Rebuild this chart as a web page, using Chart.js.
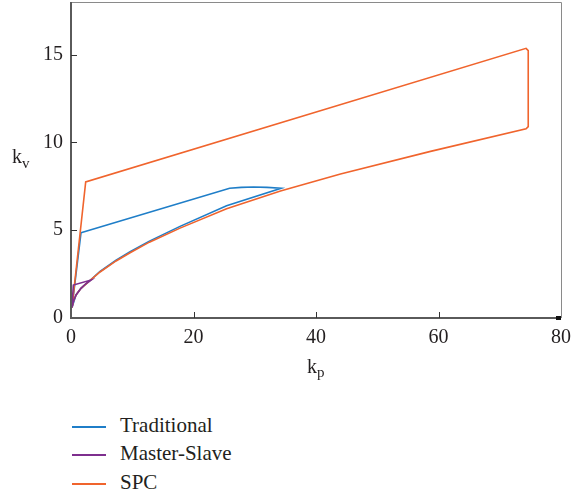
<!DOCTYPE html>
<html>
<head>
<meta charset="utf-8">
<script src="https://cdn.jsdelivr.net/npm/chart.js@4.4.1/dist/chart.umd.min.js"></script>
<style>
  html, body { margin: 0; padding: 0; background: #fff; }
  #wrap { position: relative; width: 572px; height: 496px; font-family: "Liberation Serif", serif; color: #231f20; }
  #c { position: absolute; left: 0; top: 0; }
  .lbl { position: absolute; font-size: 20px; line-height: 20px; white-space: nowrap; }
  .sub { position: relative; font-size: 15px; }
  .leg { position: absolute; left: 72px; height: 20px; }
  .leg .ln { position: absolute; left: 0; top: 11px; width: 34px; height: 2px; }
  .leg .tx { position: absolute; left: 48px; top: 0; font-size: 21px; line-height: 20px; white-space: nowrap; }
</style>
</head>
<body>
<div id="wrap">
  <canvas id="c" width="572" height="360"></canvas>
  <div class="lbl" style="left:12px; top:146px;">k<span class="sub" style="top:5px;">v</span></div>
  <div class="lbl" style="left:307px; top:356px;">k<span class="sub" style="top:4px;">p</span></div>
  <div id="legend"></div>
</div>
<script>
// ---- data ----
const seriesNames = ["Traditional", "Master-Slave", "SPC"];
const seriesColors = ["#1f7ec8", "#7e2f8e", "#f0642d"];

const tradX = [1.63, 25.9, 27.8, 29.8, 32.0, 34.3, 25.4, 17.8, 12.8, 9.65, 7.36, 4.74, 3.27, 1.63, 0.82, 0.16, 1.63];
const tradY = [4.85, 7.39, 7.44, 7.46, 7.44, 7.39, 6.40, 5.22, 4.38, 3.77, 3.29, 2.65, 2.19, 1.69, 1.31, 0.60, 4.85];

const msX = [0.16, 0.38, 3.27, 2.40, 1.63, 0.82, 0.40, 0.16];
const msY = [0.60, 1.875, 2.16, 1.95, 1.69, 1.31, 0.95, 0.60];

const spcX = [0.16, 2.40, 74.3, 74.65, 74.65, 74.3, 58.7, 44.0, 34.2, 25.4, 17.8, 12.8, 9.65, 7.36, 4.74, 3.27, 1.63, 0.82, 0.40, 0.16];
const spcY = [0.60, 7.75, 15.36, 15.23, 10.90, 10.78, 9.49, 8.20, 7.23, 6.22, 5.12, 4.32, 3.72, 3.25, 2.62, 2.18, 1.69, 1.31, 0.95, 0.60];

const xTicks = [0, 20, 40, 60, 80];
const yTicks = [0, 5, 10, 15];
const xRange = [0, 80];
const yRange = [0, 18];

// ---- build ----
function pts(xs, ys) { return xs.map((x, i) => ({ x: x, y: ys[i] })); }
const seriesData = [pts(tradX, tradY), pts(msX, msY), pts(spcX, spcY)];
const drawOrder = [2, 0, 1];

const datasets = seriesNames.map((n, i) => ({
  label: n,
  data: seriesData[i],
  showLine: true,
  borderColor: seriesColors[i],
  backgroundColor: seriesColors[i],
  borderWidth: 1.6,
  pointRadius: 0,
  tension: 0,
  fill: false,
  order: drawOrder[i]
}));

const axisColor = "#5a5a5a";
const fontSpec = { family: "Liberation Serif", size: 20 };

const framePlugin = {
  id: "frame",
  afterDraw(chart) {
    const ctx = chart.ctx, a = chart.chartArea;
    const xs = chart.scales.x, ys = chart.scales.y;
    ctx.save();
    ctx.strokeStyle = "#8a8a8a";
    ctx.lineWidth = 1;
    ctx.beginPath();
    ctx.moveTo(a.left, a.top + 0.5);
    ctx.lineTo(a.right + 0.5, a.top + 0.5);
    ctx.lineTo(a.right + 0.5, a.bottom);
    ctx.stroke();
    ctx.strokeStyle = axisColor;
    ctx.lineWidth = 2;
    ctx.beginPath();
    ctx.moveTo(a.left, a.top);
    ctx.lineTo(a.left, a.bottom);
    ctx.lineTo(a.right, a.bottom);
    ctx.stroke();
    ctx.lineWidth = 1;
    ctx.strokeStyle = "#333";
    ctx.beginPath();
    xTicks.slice(1, -1).forEach(v => {
      const p = Math.round(xs.getPixelForValue(v)) + 0.5;
      ctx.moveTo(p, a.bottom);
      ctx.lineTo(p, a.bottom - 6);
    });
    yTicks.slice(1).forEach(v => {
      const p = Math.round(ys.getPixelForValue(v)) + 0.5;
      ctx.moveTo(a.left, p);
      ctx.lineTo(a.left + 6, p);
    });
    ctx.stroke();
    const pe = xs.getPixelForValue(xTicks[xTicks.length - 1]);
    ctx.fillStyle = "#111";
    ctx.fillRect(pe - 5, a.bottom - 2, 5, 4);
    ctx.restore();
  }
};

new Chart(document.getElementById("c"), {
  type: "scatter",
  data: { datasets: datasets },
  options: {
    responsive: false,
    animation: false,
    events: [],
    layout: { padding: { left: 0, top: 2, right: 11, bottom: 0 } },
    plugins: { legend: { display: false }, tooltip: { enabled: false } },
    scales: {
      x: {
        type: "linear", min: xRange[0], max: xRange[1],
        afterBuildTicks(s) { s.ticks = xTicks.map(v => ({ value: v })); },
        afterFit(s) { s.height = 42; s.paddingLeft = 0; s.paddingRight = 0; s.paddingTop = 0; s.paddingBottom = 0; },
        grid: { display: false, drawTicks: false },
        border: { display: false },
        ticks: { font: fontSpec, color: "#231f20", padding: 8, maxRotation: 0, autoSkip: false }
      },
      y: {
        type: "linear", min: yRange[0], max: yRange[1],
        afterBuildTicks(s) { s.ticks = yTicks.map(v => ({ value: v })); },
        afterFit(s) { s.width = 71; s.paddingLeft = 0; s.paddingRight = 0; s.paddingTop = 0; s.paddingBottom = 0; },
        grid: { display: false, drawTicks: false },
        border: { display: false },
        ticks: { font: fontSpec, color: "#231f20", padding: 8, autoSkip: false }
      }
    }
  },
  plugins: [framePlugin]
});

const legTops = [415, 443, 472];
const leg = document.getElementById("legend");
seriesNames.forEach((n, i) => {
  const d = document.createElement("div");
  d.className = "leg";
  d.style.top = legTops[i] + "px";
  d.innerHTML = '<div class="ln" style="background:' + seriesColors[i] + '"></div><div class="tx">' + n + '</div>';
  leg.appendChild(d);
});
</script>
</body>
</html>
